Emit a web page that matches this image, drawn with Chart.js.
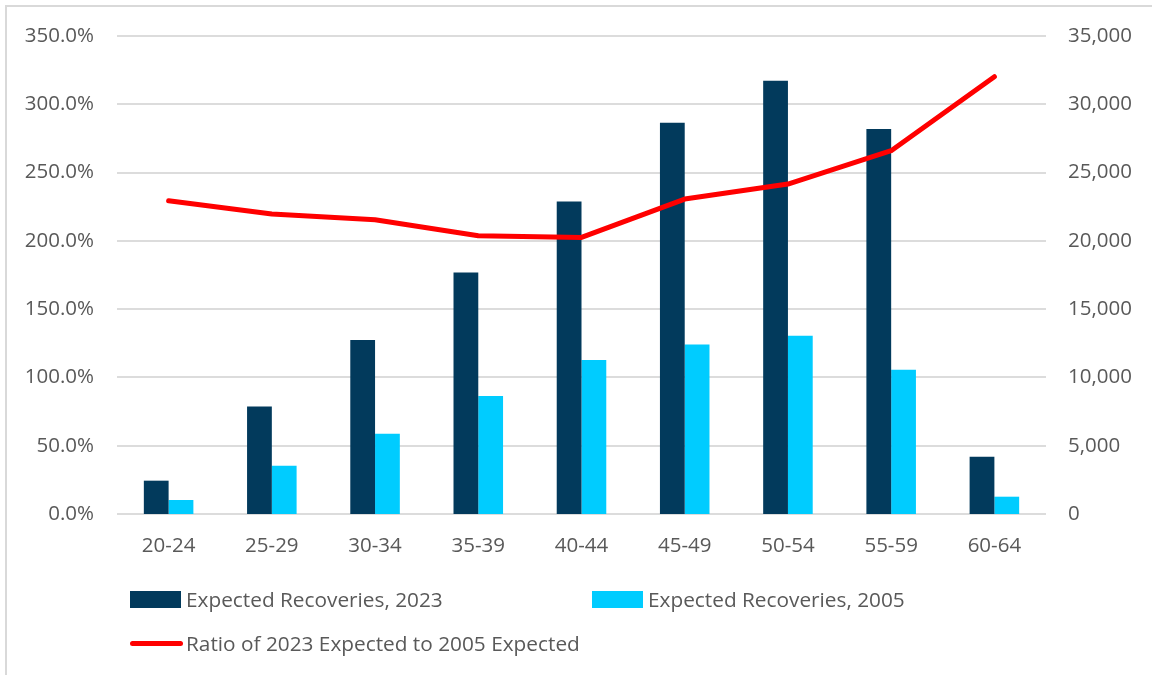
<!DOCTYPE html>
<html>
<head>
<meta charset="utf-8">
<title>Expected Recoveries by Age Group</title>
<script src="https://cdn.jsdelivr.net/npm/chart.js@4.4.1/dist/chart.umd.min.js"></script>
<style>
  body { margin: 0; background: #fff; }
  #wrap { position: relative; width: 1152px; height: 675px; background: #fff; overflow: hidden; }
  #frame { position: absolute; left: 5px; top: 5px; width: 1160px; height: 700px; border-left: 2px solid #d9d9d9; border-top: 2px solid #d9d9d9; }
  canvas { position: absolute; left: 0; top: 0; }
  .legend-item { position: absolute; display: flex; align-items: center; font-family: 'Open Sans', 'Noto Sans', sans-serif; font-size: 20.8px; color: #595959; white-space: nowrap; }
  .swatch { width: 51px; height: 17px; margin-right: 5px; }
  .line-swatch { width: 53px; height: 5px; border-radius: 3px; background: #ff0000; margin-right: 3px; }
</style>
</head>
<body>
<div id="wrap">
  <div id="frame"></div>
  <canvas id="myChart" width="1152" height="675"></canvas>
  <div class="legend-item" style="left:130px; top:586px; height:26px;"><span class="swatch" style="background:#023a5c"></span>Expected Recoveries, 2023</div>
  <div class="legend-item" style="left:592px; top:586px; height:26px;"><span class="swatch" style="background:#00ccff"></span>Expected Recoveries, 2005</div>
  <div class="legend-item" style="left:130px; top:630px; height:26px;"><span class="line-swatch"></span>Ratio of 2023 Expected to 2005 Expected</div>
</div>
<script>
'use strict'

// Age groups along the bottom
const ageGroups = ['20-24', '25-29', '30-34', '35-39', '40-44', '45-49', '50-54', '55-59', '60-64'];

// Expected recoveries (right axis)
const recoveries2023 = [2440, 7880, 12740, 17690, 22890, 28650, 31720, 28185, 4195];
const recoveries2005 = [1025, 3535, 5880, 8640, 11275, 12420, 13055, 10565, 1267];

// Ratio 2023 / 2005 in percent (left axis)
const ratioPct = [229.4, 219.6, 215.4, 203.8, 202.5, 230.6, 241.6, 266.0, 320.2];

// Axis ranges
const ratioMax = 350;
const ratioStep = 50;
const countMax = 35000;
const countStep = 5000;

const tickColor = '#595959';
const gridColor = '#dcdcdc';
const tickFont = { family: "'Open Sans', 'Noto Sans', sans-serif", size: 20.5 };

const data = {
  labels: ageGroups,
  datasets: [{
    type: 'line',
    label: 'Ratio of 2023 Expected to 2005 Expected',
    data: ratioPct,
    yAxisID: 'y',
    borderColor: '#ff0000',
    backgroundColor: '#ff0000',
    borderWidth: 5,
    borderCapStyle: 'round',
    borderJoinStyle: 'round',
    pointRadius: 0,
    tension: 0,
    order: 0
  },
  {
    label: 'Expected Recoveries, 2023',
    data: recoveries2023,
    yAxisID: 'y1',
    backgroundColor: '#023a5c',
    borderWidth: 0,
    order: 1
  },
  {
    label: 'Expected Recoveries, 2005',
    data: recoveries2005,
    yAxisID: 'y1',
    backgroundColor: '#00ccff',
    borderWidth: 0,
    order: 2
  }]
};

const config = {
  type: 'bar',
  data: data,
  options: {
    responsive: false,
    animation: false,
    categoryPercentage: 0.48,
    barPercentage: 1,
    layout: {
      padding: { left: 0, right: 0, top: 36, bottom: 111 }
    },
    plugins: {
      legend: { display: false },
      tooltip: { enabled: false }
    },
    scales: {
      x: {
        grid: { display: false, drawTicks: false },
        border: { display: false },
        ticks: { color: tickColor, font: tickFont, padding: 20 },
        afterFit: function (scale) { scale.height = 50; }
      },
      y: {
        position: 'left',
        min: 0,
        max: ratioMax,
        grid: { color: gridColor, lineWidth: 2, drawTicks: false },
        border: { display: false },
        ticks: {
          stepSize: ratioStep,
          color: tickColor,
          font: tickFont,
          padding: 23,
          callback: function (value) { return value.toFixed(1) + '%'; }
        },
        afterFit: function (scale) { scale.width = 117; }
      },
      y1: {
        position: 'right',
        min: 0,
        max: countMax,
        grid: { display: false, drawTicks: false },
        border: { display: false },
        ticks: {
          stepSize: countStep,
          color: tickColor,
          font: tickFont,
          padding: 22,
          callback: function (value) { return value.toLocaleString('en-US'); }
        },
        afterFit: function (scale) { scale.width = 106; }
      }
    }
  }
};

let canvasChart = document.getElementById('myChart');
const myChart = new Chart(canvasChart, config);
</script>
</body>
</html>
